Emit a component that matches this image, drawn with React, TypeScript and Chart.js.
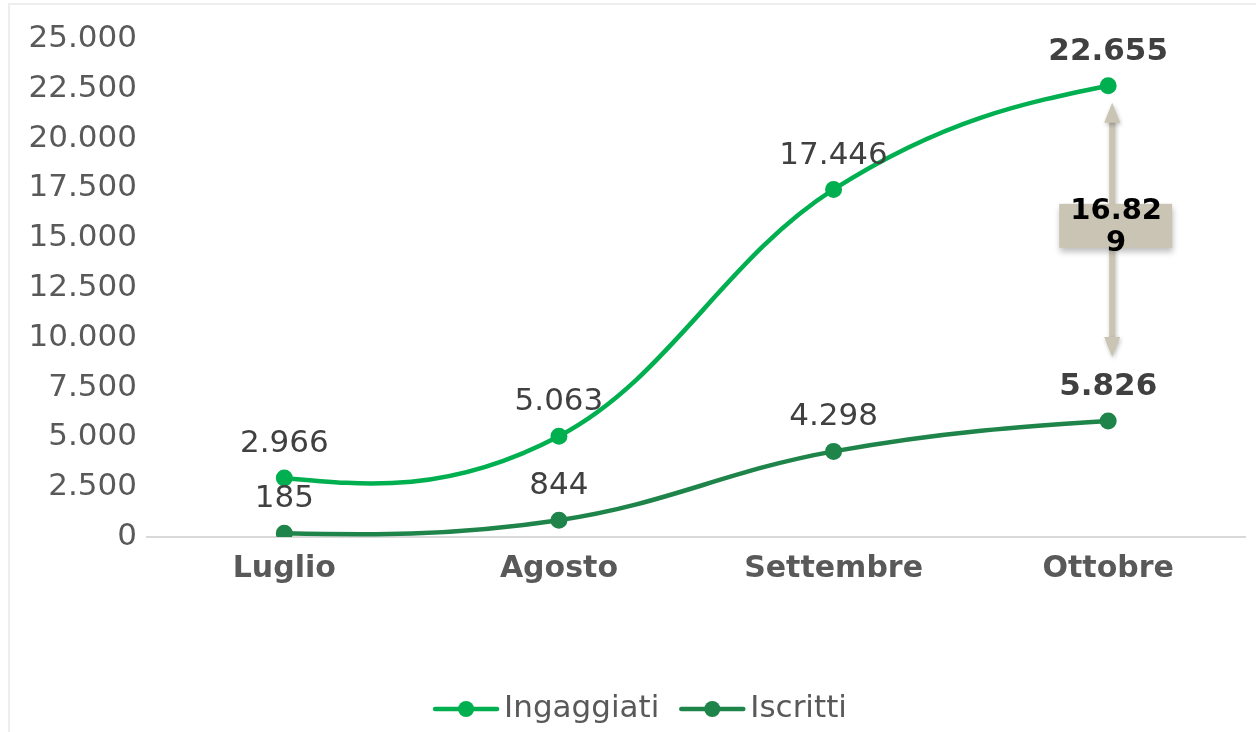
import React, { useEffect, useRef } from "react";
import { Chart, registerables } from "chart.js";

Chart.register(...registerables);

const categories = ["Luglio", "Agosto", "Settembre", "Ottobre"];
const ingaggiati = [2966, 5063, 17446, 22655];
const iscritti = [185, 844, 4298, 5826];
const yTicks = [0, 2500, 5000, 7500, 10000, 12500, 15000, 17500, 20000, 22500, 25000];

const fmt = (v: number) => String(Math.round(v)).replace(/\B(?=(\d{3})+(?!\d))/g, ".");

const FONT = "'DejaVu Sans', sans-serif";
const GREEN1 = "#00B050";
const GREEN2 = "#1E8449";

// Excel-like smoothing: Catmull-Rom style tangents, natural ends
function smoothPath(ctx: CanvasRenderingContext2D, pts: { x: number; y: number }[]) {
  const k = 0.2;
  const n = pts.length;
  ctx.beginPath();
  ctx.moveTo(pts[0].x, pts[0].y);
  for (let i = 0; i < n - 1; i++) {
    const p1 = pts[i];
    const p2 = pts[i + 1];
    let c1x: number, c1y: number, c2x: number, c2y: number;
    const hasPrev = i > 0;
    const hasNext = i + 2 < n;
    if (hasNext) {
      const p3 = pts[i + 2];
      c2x = p2.x - k * (p3.x - p1.x);
      c2y = p2.y - k * (p3.y - p1.y);
    } else {
      c2x = NaN;
      c2y = NaN;
    }
    if (hasPrev) {
      const p0 = pts[i - 1];
      c1x = p1.x + k * (p2.x - p0.x);
      c1y = p1.y + k * (p2.y - p0.y);
    } else {
      c1x = NaN;
      c1y = NaN;
    }
    if (!hasPrev && hasNext) {
      c1x = (p1.x + c2x) / 2;
      c1y = (p1.y + c2y) / 2;
    }
    if (hasPrev && !hasNext) {
      c2x = (p2.x + c1x) / 2;
      c2y = (p2.y + c1y) / 2;
    }
    if (!hasPrev && !hasNext) {
      c1x = p1.x; c1y = p1.y; c2x = p2.x; c2y = p2.y;
    }
    ctx.bezierCurveTo(c1x, c1y, c2x, c2y, p2.x, p2.y);
  }
  ctx.stroke();
}

const decorPlugin = {
  id: "decor",
  beforeDraw(chart: any) {
    const ctx = chart.ctx;
    ctx.save();
    ctx.strokeStyle = "#eeeeee";
    ctx.lineWidth = 2;
    ctx.beginPath();
    ctx.moveTo(9, chart.height + 5);
    ctx.lineTo(9, 4);
    ctx.lineTo(chart.width + 5, 4);
    ctx.stroke();
    ctx.restore();
  },
  beforeDatasetsDraw(chart: any) {
    const ctx = chart.ctx;
    ctx.save();
    chart.data.datasets.forEach((ds: any, di: number) => {
      const meta = chart.getDatasetMeta(di);
      const pts = meta.data.map((p: any) => ({ x: p.x, y: p.y }));
      ctx.strokeStyle = ds.borderColor;
      ctx.lineWidth = 4.5;
      ctx.lineCap = "round";
      ctx.lineJoin = "round";
      smoothPath(ctx, pts);
    });
    ctx.restore();
  },
  afterDatasetsDraw(chart: any) {
    const ctx = chart.ctx;
    const last = categories.length - 1;
    ctx.save();
    ctx.textAlign = "center";
    ctx.textBaseline = "middle";
    chart.data.datasets.forEach((ds: any, di: number) => {
      const meta = chart.getDatasetMeta(di);
      meta.data.forEach((pt: any, i: number) => {
        const bold = i === last;
        ctx.font = bold ? `bold 31px ${FONT}` : `31px ${FONT}`;
        ctx.fillStyle = "#404040";
        ctx.fillText(fmt(ds.data[i]), pt.x, pt.y - 34);
      });
    });

    // annotation arrow between last points
    const y = chart.scales.y;
    const x = chart.scales.x;
    const ax = x.getPixelForValue(last) + 4;
    const topV = ingaggiati[last];
    const botV = iscritti[last];
    const yTop = y.getPixelForValue(topV) + 17;
    const yBot = y.getPixelForValue(botV) - 64;
    const col = "#C9C4B3";
    ctx.fillStyle = col;
    ctx.shadowColor = "rgba(0,0,0,0.25)";
    ctx.shadowBlur = 4;
    ctx.shadowOffsetX = 1;
    ctx.shadowOffsetY = 2;
    ctx.fillRect(ax - 3, yTop + 18, 6, yBot - yTop - 36);
    ctx.beginPath();
    ctx.moveTo(ax, yTop);
    ctx.lineTo(ax + 8, yTop + 20);
    ctx.lineTo(ax - 8, yTop + 20);
    ctx.closePath();
    ctx.fill();
    ctx.beginPath();
    ctx.moveTo(ax, yBot);
    ctx.lineTo(ax + 8, yBot - 20);
    ctx.lineTo(ax - 8, yBot - 20);
    ctx.closePath();
    ctx.fill();
    const midY = (yTop + yBot) / 2 - 2;
    const bw = 113, bh = 44;
    const bx = ax - 53;
    const by = midY - 24;
    ctx.shadowBlur = 6;
    ctx.shadowOffsetY = 4;
    ctx.fillRect(bx, by, bw, bh);
    ctx.shadowColor = "transparent";
    ctx.fillStyle = "#000000";
    ctx.font = `bold 29px ${FONT}`;
    const diff = fmt(topV - botV);
    ctx.fillText(diff.slice(0, 5), ax + 4, by + 8);
    ctx.fillText(diff.slice(5), ax + 4, by + 40);
    ctx.restore();
  },
  afterDraw(chart: any) {
    const ctx = chart.ctx;
    ctx.save();
    ctx.font = `31px ${FONT}`;
    ctx.textBaseline = "middle";
    ctx.textAlign = "left";
    const lineW = 66;
    const gap = 5;
    const itemGap = 20;
    const items = chart.data.datasets.map((d: any) => ({
      text: d.label,
      color: d.borderColor,
      w: ctx.measureText(d.label).width,
    }));
    const total = items.reduce((s: number, it: any) => s + lineW + gap + it.w, 0) + itemGap * (items.length - 1);
    let cx = 640 - total / 2;
    const cy = 709;
    items.forEach((it: any) => {
      ctx.strokeStyle = it.color;
      ctx.lineWidth = 4.5;
      ctx.lineCap = "round";
      ctx.beginPath();
      ctx.moveTo(cx + 2, cy);
      ctx.lineTo(cx + lineW - 2, cy);
      ctx.stroke();
      ctx.fillStyle = it.color;
      ctx.beginPath();
      ctx.arc(cx + lineW / 2, cy, 8, 0, Math.PI * 2);
      ctx.fill();
      ctx.fillStyle = "#595959";
      ctx.fillText(it.text, cx + lineW + gap, cy);
      cx += lineW + gap + it.w + itemGap;
    });
    ctx.restore();
  },
};

export default function App() {
  const ref = useRef<HTMLCanvasElement | null>(null);
  useEffect(() => {
    if (!ref.current) return;
    const chart = new Chart(ref.current, {
      type: "line",
      data: {
        labels: categories,
        datasets: [
          {
            label: "Ingaggiati",
            data: ingaggiati,
            borderColor: GREEN1,
            backgroundColor: GREEN1,
            borderWidth: 4,
            showLine: false,
            pointRadius: 6.5,
            pointHoverRadius: 6.5,
          },
          {
            label: "Iscritti",
            data: iscritti,
            borderColor: GREEN2,
            backgroundColor: GREEN2,
            borderWidth: 4,
            showLine: false,
            pointRadius: 6.5,
            pointHoverRadius: 6.5,
          },
        ],
      },
      options: {
        animation: false,
        responsive: false,
        layout: { padding: { left: 0, right: 10, top: 39, bottom: 0 } },
        scales: {
          x: {
            offset: true,
            grid: { display: false },
            border: { display: true, color: "#d9d9d9", width: 2 },
            ticks: {
              color: "#595959",
              font: { family: FONT, size: 30, weight: "bold" },
              padding: 6,
            },
            afterFit: (s: any) => {
              s.height = 195;
            },
          },
          y: {
            min: 0,
            max: 25000,
            afterBuildTicks: (s: any) => {
              s.ticks = yTicks.map((v) => ({ value: v }));
            },
            grid: { display: false },
            border: { display: false },
            ticks: {
              color: "#595959",
              font: { family: FONT, size: 31 },
              padding: 2,
              callback: (v: any) => fmt(Number(v)),
            },
            afterFit: (s: any) => {
              s.width = 147;
            },
          },
        },
        plugins: {
          tooltip: { enabled: false },
          legend: { display: false },
        },
      },
      plugins: [decorPlugin],
    });
    return () => chart.destroy();
  }, []);
  return (
    <div style={{ position: "fixed", left: 0, top: 0, width: 1256, height: 732, background: "#fff" }}>
      <canvas ref={ref} width={1256} height={732} style={{ display: "block" }} />
    </div>
  );
}
